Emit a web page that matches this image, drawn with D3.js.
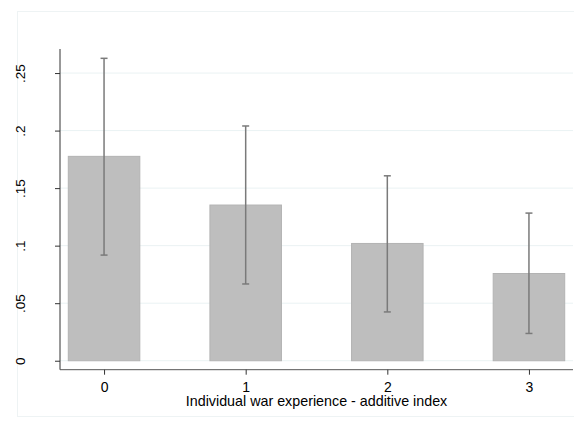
<!DOCTYPE html>
<html>
<head>
<meta charset="utf-8">
<script src="https://cdn.jsdelivr.net/npm/d3@7"></script>
<style>
  body { margin: 0; background: #fff; }
  svg { display: block; font-family: "Liberation Sans", Arial, sans-serif; }
</style>
</head>
<body>
<div id="chart"></div>
<script>
// categories and values
var categories = [0, 1, 2, 3];
var means = [0.1776, 0.1353, 0.1019, 0.0758];
var upper = [0.2628, 0.2040, 0.1607, 0.1283];
var lower = [0.0918, 0.0667, 0.0424, 0.0237];
var yTicks = [0, 0.05, 0.1, 0.15, 0.2, 0.25];
var yTickLabels = ["0", ".05", ".1", ".15", ".2", ".25"];
var xTitle = "Individual war experience - additive index";

var width = 574, height = 424;
var plotLeft = 60, plotRight = 573, plotTop = 49, plotBottom = 369.7;

var svg = d3.select("#chart").append("svg")
    .attr("width", width)
    .attr("height", height);

// faint graph region frame
svg.append("rect")
    .attr("x", 17.5).attr("y", 11.5)
    .attr("width", 560).attr("height", 405)
    .attr("fill", "none")
    .attr("stroke", "#eef3f4");

var x = d3.scaleLinear().domain([-0.311, 3.311]).range([plotLeft, plotRight]);
var y = d3.scaleLinear().domain([-0.0078, 0.2709]).range([plotBottom, plotTop]);
var barW = x(0.505) - x(0);

// gridlines
svg.selectAll(".grid")
    .data(yTicks)
    .enter()
    .append("line")
    .attr("x1", plotLeft).attr("x2", plotRight)
    .attr("y1", d => y(d)).attr("y2", d => y(d))
    .attr("stroke", "#eaf2f3")
    .attr("stroke-width", 1);

// bars
svg.selectAll(".bar")
    .data(categories)
    .enter()
    .append("rect")
    .attr("x", d => x(d) - barW / 2)
    .attr("y", (d, i) => y(means[i]))
    .attr("width", barW)
    .attr("height", (d, i) => y(0) - y(means[i]))
    .attr("fill", "#bebebe")
    .attr("stroke", "#b3b3b3")
    .attr("stroke-width", 1);

// error bars
var eb = svg.selectAll(".err")
    .data(categories)
    .enter()
    .append("g")
    .attr("stroke", "#7a7a7a")
    .attr("stroke-width", 1.5);

eb.append("line")
    .attr("x1", d => x(d)).attr("x2", d => x(d))
    .attr("y1", (d, i) => y(upper[i])).attr("y2", (d, i) => y(lower[i]));
eb.append("line")
    .attr("x1", d => x(d) - 3.5).attr("x2", d => x(d) + 3.5)
    .attr("y1", (d, i) => y(upper[i])).attr("y2", (d, i) => y(upper[i]));
eb.append("line")
    .attr("x1", d => x(d) - 3.5).attr("x2", d => x(d) + 3.5)
    .attr("y1", (d, i) => y(lower[i])).attr("y2", (d, i) => y(lower[i]));

// y axis
var yAxis = d3.axisLeft(y)
    .tickValues(yTicks)
    .tickFormat((d, i) => yTickLabels[i])
    .tickSize(5)
    .tickSizeOuter(0);
var gy = svg.append("g")
    .attr("transform", "translate(" + plotLeft + ",0)")
    .call(yAxis);
gy.select(".domain").attr("stroke", "#333").attr("d", "M0," + plotTop + "V" + plotBottom);
gy.selectAll(".tick line").attr("stroke", "#333");
gy.selectAll(".tick text")
    .attr("x", 0).attr("y", 0)
    .attr("dx", null).attr("dy", null)
    .attr("text-anchor", "middle")
    .attr("transform", "translate(-35,0) rotate(-90)")
    .style("font-size", "13.5px")
    .attr("fill", "#000");

// x axis
var xAxis = d3.axisBottom(x)
    .tickValues(categories)
    .tickFormat(d3.format("d"))
    .tickSize(5)
    .tickSizeOuter(0);
var gx = svg.append("g")
    .attr("transform", "translate(0," + plotBottom + ")")
    .call(xAxis);
gx.select(".domain").attr("stroke", "#555").attr("d", "M" + plotLeft + ",0H" + plotRight);
gx.selectAll(".tick line").attr("stroke", "#333");
gx.selectAll(".tick text")
    .attr("y", 22).attr("dy", null)
    .style("font-size", "14px")
    .attr("fill", "#000");

// x title
svg.append("text")
    .attr("x", (plotLeft + plotRight) / 2)
    .attr("y", 406)
    .attr("text-anchor", "middle")
    .style("font-size", "14.3px")
    .attr("fill", "#000")
    .text(xTitle);
</script>
</body>
</html>
